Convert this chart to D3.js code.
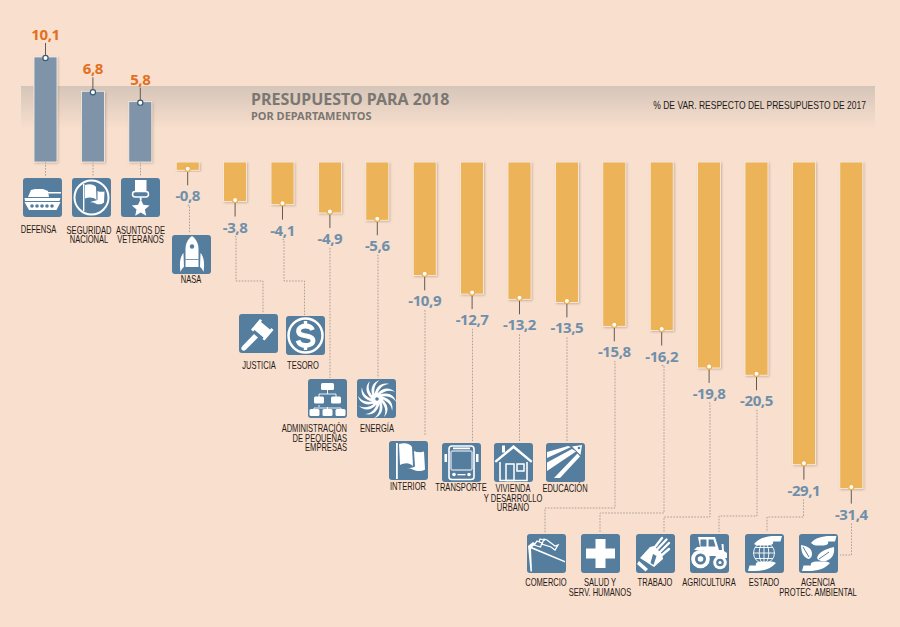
<!DOCTYPE html>
<html>
<head>
<meta charset="utf-8">
<script src="https://cdnjs.cloudflare.com/ajax/libs/d3/7.8.5/d3.min.js"></script>
<style>
  html, body { margin: 0; padding: 0; background: #f9dfcd; }
  svg { display: block; }
  .label { font-family: "Liberation Sans", sans-serif; font-size: 10.5px; fill: #1f1a17; }
  .value { font-family: "Noto Sans", sans-serif; font-size: 15px; font-weight: 700; text-anchor: middle; letter-spacing: -0.4px; }
  .leader { fill: none; stroke: #94908c; stroke-width: 0.8; stroke-dasharray: 1.6 1.4; }
  .stem { stroke: #5f5a56; stroke-width: 1; }
</style>
</head>
<body>
<svg id="chart" width="900" height="627"></svg>
<script>
const departments = ["DEFENSA", "SEGURIDAD NACIONAL", "ASUNTOS DE VETERANOS", "NASA", "JUSTICIA", "TESORO",
  "ADMINISTRACIÓN DE PEQUEÑAS EMPRESAS", "ENERGÍA", "INTERIOR", "TRANSPORTE", "VIVIENDA Y DESARROLLO URBANO",
  "EDUCACIÓN", "COMERCIO", "SALUD Y SERV. HUMANOS", "TRABAJO", "AGRICULTURA", "ESTADO", "AGENCIA PROTEC. AMBIENTAL"];
const values = [10.1, 6.8, 5.8, -0.8, -3.8, -4.1, -4.9, -5.6, -10.9, -12.7, -13.2, -13.5, -15.8, -16.2, -19.8, -20.5, -29.1, -31.4];
const labelLines = [["DEFENSA"], ["SEGURIDAD", "NACIONAL"], ["ASUNTOS DE", "VETERANOS"], ["NASA"], ["JUSTICIA"], ["TESORO"],
  ["ADMINISTRACIÓN", "DE PEQUEÑAS", "EMPRESAS"], ["ENERGÍA"], ["INTERIOR"], ["TRANSPORTE"], ["VIVIENDA", "Y DESARROLLO", "URBANO"],
  ["EDUCACIÓN"], ["COMERCIO"], ["SALUD Y", "SERV. HUMANOS"], ["TRABAJO"], ["AGRICULTURA"], ["ESTADO"], ["AGENCIA", "PROTEC. AMBIENTAL"]];
const iconNames = ["tank", "flagCircle", "medal", "rocket", "gavel", "dollar", "orgChart", "cyclone", "flag", "bus", "house",
  "pencil", "folders", "cross", "glove", "tractor", "globe", "leaves"];

// page layout of the pictograms, captions and dotted leaders, in the same order as departments
const iconBoxes = [[23,178],[72,178],[121,178],[172,235],[239,314],[286,316],[308,379],[357,379],[389,441],[442,443],[494,443],
  [546,443],[527,534],[581,534],[636,534],[690,534],[745,534],[799,534]];
const captions = [[38.5,233,"middle"],[89,233.5,"middle"],[140.5,233.5,"middle"],[191,283,"middle"],[259,369,"middle"],[303,369,"middle"],
  [347,432,"end"],[377,432,"middle"],[408,490,"middle"],[461,491,"middle"],[513,492,"middle"],[565,492,"middle"],
  [546,586,"middle"],[600,586,"middle"],[655,586,"middle"],[709,586,"middle"],[764,586,"middle"],[818,586,"middle"]];
const routes = [
  [[45.5,176]], [[93,176]], [[140.5,176]], [[189.5,233]],
  [[236,281],[263,281],[263,313]], [[284,281],[304.5,281],[304.5,315]],
  [[330,378]], [[378,378]], [[425,435]], [[472.5,441]], [[519.5,441]], [[567,441]],
  [[615,508],[545,508],[545,533]], [[664,513],[600,513],[600,532]], [[710,517],[664,517],[664,532]],
  [[757,516],[719,516],[719,532]], [[803.5,517],[767,517],[767,532]], [[851.5,555],[840,555]]
];

const bgBlue = "#557d9e";
const icons = {
  tank: `<rect x="22" y="14" width="16" height="1.500"/><path d="M8 12l4-1h8l5 2 1 6H5z"/><path d="M1.500 20h36l-1 3H2z"/>
    <path d="M1.500 24h36l-4 8H6z"/><g fill="${bgBlue}"><circle cx="9" cy="28" r="1.800"/><circle cx="14" cy="28" r="1.800"/><circle cx="19" cy="28" r="1.800"/><circle cx="24" cy="28" r="1.800"/><circle cx="29" cy="28" r="1.800"/></g>`,
  flagCircle: `<circle cx="19.500" cy="19.500" r="17" fill="none" stroke="#fff" stroke-width="2"/><rect x="11" y="6" width="1.400" height="27"/>
    <path d="M13 7c4-1.500 9-1 11 2l.5 13c-3-3-8-3-11.500-1.500z"/><path d="M25.500 13c2 1 5 1 7 .5l-.5 11c-2 2-6 2.500-8.500 1-2-1-4-1.500-6-1 3-1.500 6-2 8-2.500z"/>`,
  medal: `<rect x="14" y="2" width="11.500" height="11.500"/><rect x="11.500" y="13.500" width="16" height="5.500" rx="2.700" fill="none" stroke="#fff" stroke-width="1.500"/>
    <rect x="18.800" y="19" width="1.800" height="3"/>
    <path d="M19.700 21l2.600 5.800 6.300.6-4.700 4.200 1.300 6.200-5.500-3.200-5.500 3.200 1.300-6.200-4.700-4.200 6.300-.6z"/>`,
  rocket: `<path d="M20 1c4.500 3.500 6.500 8 6.500 13v18h-13V14c0-5 2-9.500 6.500-13z"/><circle cx="20" cy="11.500" r="2.200" fill="${bgBlue}"/>
    <rect x="13.500" y="24" width="13" height=".8" fill="${bgBlue}"/><path d="M11.500 18c-3 3-4.500 9-3 19 1-2.500 2-4 3.500-5z"/><path d="M28.500 18c3 3 4.500 9 3 19-1-2.500-2-4-3.500-5z"/>`,
  gavel: `<path d="M21 5l2 1.500-1 1.500 9 7.500 1.500-1.500 2 2-9 10.500-2-1.500 1-1.500-9-7.500-1.500 1.500-2-2z"/><path d="M15 20l4 3.500L7 35.500c-1.500 1.500-3 1.500-4 .5-1-1-1-2.500.5-4z"/>`,
  dollar: `<circle cx="19.500" cy="19.500" r="17" fill="none" stroke="#fff" stroke-width="2.500"/>
    <path d="M26.500 14c-1-3-3.500-4-7-4-4 0-7 2-7 5 0 7 14.500 3 14.500 9.500 0 3-3 5-7.500 5-3.500 0-6.500-1.500-7.500-5" fill="none" stroke="#fff" stroke-width="4.800"/><rect x="17.800" y="5" width="3.400" height="4"/><rect x="17.800" y="30" width="3.400" height="4"/>`,
  orgChart: `<g fill="none" stroke="#fff" stroke-width="0.900"><path d="M19.500 10v5M11 15h17M11 15v3M28 15v3M11 26v2M6 29h27M19.500 28v2M6 29v2M33 29v2"/></g>
    <rect x="13" y="4" width="13" height="7" rx="1.500"/><rect x="6" y="17.500" width="10" height="7" rx="1.500"/><rect x="23" y="17.500" width="10" height="7" rx="1.500"/>
    <rect x="1.500" y="30" width="10" height="7" rx="1.500"/><rect x="14.500" y="30" width="10" height="7" rx="1.500"/><rect x="27.500" y="30" width="10" height="7" rx="1.500"/>`,
  cyclone: d3.range(12).map(i => `<path transform="rotate(${i * 30} 20 20)" d="M20 15C26 8 33 8 38 13 33 10.500 27 11.500 22 16.500z"/>`).join("") + `<circle cx="20" cy="20" r="6"/><circle cx="20" cy="20" r="1.800" fill="${bgBlue}"/>`,
  flag: `<rect x="7" y="2" width="1.800" height="36"/><path d="M10 3c5-1.500 11-1 13 3l1 19c-4-4-9-3-13-1z"/><path d="M25 10c3 1.500 7 1.500 10 .5l1 18c-3 2-8 2-11 .5-3-1.500-5-2-7-1 3-1 6-1.500 8-2.500z"/>`,
  bus: `<path d="M10 3h19c2 0 3 1 3 3v28c0 1.500-1 2.500-3 2.500H10c-2 0-3-1-3-2.500V6c0-2 1-3 3-3z" fill="none" stroke="#fff" stroke-width="1.600"/>
    <rect x="9" y="8" width="21" height="19" rx="1" fill="none" stroke="#fff" stroke-width="1"/><rect x="11" y="4.500" width="17" height="1.800"/>
    <path d="M2.500 11h2.500v8H2.500zM34 11h2.500v8H34z"/><circle cx="12" cy="31.500" r="1.800"/><circle cx="27" cy="31.500" r="1.800"/><rect x="15.500" y="31" width="8" height="1.300"/>`,
  house: `<path d="M19.500 2L38.500 18l-1.500 1.800L19.500 5.500 2 19.800.5 18z"/><rect x="8" y="2.500" width="3" height="7"/>
    <path d="M6 19v18.500h27V19" fill="none" stroke="#fff" stroke-width="1.600"/><rect x="12" y="21" width="8" height="16.500" fill="none" stroke="#fff" stroke-width="1.500"/><rect x="23" y="21" width="7" height="7" fill="none" stroke="#fff" stroke-width="1.500"/>`,
  pencil: `<path d="M1 9L22 3l3 1L1 15z"/><path d="M1 19.500L26 6l4 2.500L1 28z"/><path d="M8 35L31.500 10.500l2.500 3L14 35z"/><path d="M26 3.500L36 2l-1.500 10z"/><circle cx="33" cy="5" r="1.300" fill="${bgBlue}"/>`,
  folders: `<path d="M1 12l5-4 3 2-4 3 33 14v1.500L4 14.500l1 23H3.500z"/><path d="M7 11l3-4 5 2-1.500 4zM15 10l2-5 3 1 8 6 3-1-3 5-4-3z" fill="none" stroke="#fff" stroke-width="1.300"/><path d="M12 8l1-3 5 1.500" fill="none" stroke="#fff" stroke-width="1.200"/>`,
  cross: `<path d="M14.500 5h10v9.500H34v10h-9.500V34h-10v-9.500H5v-10h9.500z"/>`,
  glove: `<path d="M4 24L14 13l4-1 8 8 1 5-9 8z"/><g stroke="#fff" stroke-width="2.400" stroke-linecap="round"><path d="M19 13l7-9M21.500 15l9-9.500M24 18l9-9M26 21l7-6" fill="none"/></g>
    <path d="M3 27l9 8-2.500 2.500L1 30z"/><path d="M17 20l3.500 2-3 9-3-2z" fill="${bgBlue}"/>`,
  tractor: `<path d="M8 3h17l4 13h3l-.5-6h2l.5 7 3 2v5h-9l-3-2H16l-3-6H4l3-3h3z"/><path d="M10.500 5.500h6v7h-6zM18.500 5.500h5l2 7h-7z" fill="${bgBlue}"/>
    <circle cx="10.500" cy="25" r="9.300"/><circle cx="10.500" cy="25" r="5.500" fill="${bgBlue}"/><circle cx="10.500" cy="25" r="2.800"/><circle cx="30" cy="28.500" r="6.800"/><circle cx="30" cy="28.500" r="3.800" fill="${bgBlue}"/><circle cx="30" cy="28.500" r="1.600"/>`,
  globe: `<path d="M9 10C14 4 22 2 30 2h7l-1.500 5.500H28c1 3-2 4-6 4h-8c-2 0-3 0-5-1.500z"/><path d="M31 29c-5 6-13 8-21 8H3l1.500-5.500H11c-1-3 2-4 6-4h8c2 0 4 0 6 1.500z"/>
    <g fill="none" stroke="#fff" stroke-width="0.900" transform="translate(1 -1)"><circle cx="18" cy="20" r="10.500"/><ellipse cx="18" cy="20" rx="4.800" ry="10.500"/><path d="M7.500 20h21M9 14.500h18M9 25.500h18M18 9.500v21"/></g>`,
  leaves: `<path d="M12 9C16 4 23 2 31 2h6.500L36 7.500H29c1 3-2 4-6 4h-6c-2 0-3-1-5-2.500z"/><path d="M31 29c-5 6-13 8-21 8H3l1.500-5.500H12c-1-3 2-4 6-4h7c2 0 4 0 6 1.500z"/>
    <path d="M2 11c6 1 11 3 11 9 0 2-1 4-3 5C5 24 2 19 2 11z"/><path d="M35 13c1 7-2 12-8 14-5 1-8-1-9-3 1-6 9-9 17-11z"/><path d="M20 25l10-7M4 13l6 10" stroke="${bgBlue}" fill="none"/>`
};

const svg = d3.select("#chart");
const defs = svg.append("defs");

const bandGradient = defs.append("linearGradient").attr("id", "band").attr("x1", 0).attr("x2", 0).attr("y1", 0).attr("y2", 1);
bandGradient.append("stop").attr("offset", 0).attr("stop-color", "#d5c5b9");
bandGradient.append("stop").attr("offset", 1).attr("stop-color", "#f9dfcd");

const shadow = defs.append("filter").attr("id", "soft").attr("x", "-30%").attr("y", "-10%").attr("width", "160%").attr("height", "120%");
shadow.append("feDropShadow").attr("dx", 1).attr("dy", 1).attr("stdDeviation", 1).attr("flood-color", "#8a7565").attr("flood-opacity", 0.45);

svg.append("rect").attr("width", 900).attr("height", 627).attr("fill", "#f9dfcd");
svg.append("rect").attr("x", 21).attr("y", 86).attr("width", 854).attr("height", 43).attr("fill", "url(#band)");

svg.append("text").attr("x", 251).attr("y", 105).attr("font-family", "Noto Sans, sans-serif").attr("font-size", 16)
  .attr("font-weight", 700).attr("fill", "#7b7773").text("PRESUPUESTO PARA 2018");
svg.append("text").attr("x", 251).attr("y", 119.5).attr("font-family", "Noto Sans, sans-serif").attr("font-size", 11)
  .attr("font-weight", 700).attr("fill", "#7b7773").text("POR DEPARTAMENTOS");
// the reference uses a condensed face, none is installed so the text is squeezed horizontally
svg.append("text").attr("class", "label").attr("transform", "translate(866,109) scale(0.81,1)").attr("text-anchor", "end")
  .text("% DE VAR. RESPECTO DEL PRESUPUESTO DE 2017");

const x = d3.scaleBand().domain(departments).range([21.8, 875]).paddingInner(0.515).paddingOuter(0.2575);
const y = d3.scaleLinear().domain([0, -31.4]).range([162, 488.6]);
const items = departments.map((name, i) => ({ name, value: values[i], lines: labelLines[i], icon: iconNames[i], box: iconBoxes[i], caption: captions[i], route: routes[i] }));
const cx = d => x(d.name) + x.bandwidth() / 2;
const valueText = d => d3.format(".1f")(d.value).replace(".", ",").replace("−", "-");

// dotted leaders, from under the value label (or the bar for growth) to the pictogram
const leaderStart = d => d.value > 0 ? y(0) : y(d.value) + 35;
svg.append("g").selectAll("path").data(items).join("path")
  .attr("class", "leader")
  .attr("d", d => d3.line()([[cx(d), leaderStart(d)], [d.route[0][0], leaderStart(d)], ...d.route]));

// bars
svg.append("g").selectAll("rect").data(items).join("rect")
  .attr("x", d => x(d.name))
  .attr("y", d => Math.min(y(0), y(d.value)))
  .attr("width", x.bandwidth())
  .attr("height", d => Math.abs(y(d.value) - y(0)))
  .attr("fill", d => d.value > 0 ? "#7f94a8" : "#edb359")
  .attr("stroke", "#fbf0e6")
  .attr("stroke-width", 0.8)
  .attr("filter", "url(#soft)");

// solid stems and end dots
const ends = svg.append("g").selectAll("g").data(items).join("g");
ends.append("line").attr("class", "stem")
  .attr("x1", cx).attr("x2", cx)
  .attr("y1", d => y(d.value))
  .attr("y2", d => d.value > 0 ? y(d.value) - 14 : y(d.value) + 15);
ends.append("circle")
  .attr("cx", cx)
  .attr("cy", d => d.value > 0 ? y(d.value) + 1 : y(d.value) - 1.5)
  .attr("r", 2.6)
  .attr("fill", "#fff")
  .attr("stroke", d => d.value > 0 ? "#3d5a73" : "#eeb04e")
  .attr("stroke-width", 1.2);
ends.append("text").attr("class", "value")
  .attr("x", cx)
  .attr("y", d => d.value > 0 ? y(d.value) - 17 : y(d.value) + 31)
  .attr("fill", d => d.value > 0 ? "#e2701e" : "#6f8fab")
  .text(valueText);

// pictograms
const pics = svg.append("g").selectAll("g").data(items).join("g")
  .attr("transform", d => `translate(${d.box[0]},${d.box[1]})`);
pics.append("rect").attr("width", 39).attr("height", 39).attr("rx", 3).attr("fill", bgBlue);
pics.append("g").attr("fill", "#fff").html(d => icons[d.icon]);

// captions, one text per line, squeezed like the note above
const captionLines = items.flatMap(d => d.lines.map((line, i) => ({ line, i, caption: d.caption })));
svg.append("g").selectAll("text").data(captionLines).join("text")
  .attr("class", "label")
  .attr("text-anchor", d => d.caption[2])
  .attr("transform", d => `translate(${d.caption[0]},${d.caption[1] + d.i * 9.6}) scale(0.72,1)`)
  .text(d => d.line);
</script>
</body>
</html>
